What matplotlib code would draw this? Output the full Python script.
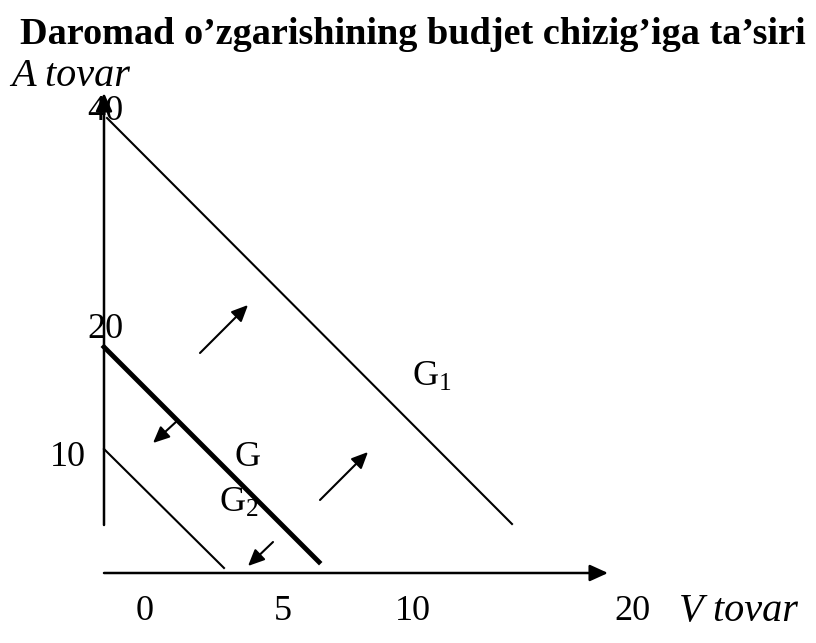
import matplotlib
matplotlib.use('Agg')
import matplotlib.pyplot as plt
from matplotlib.patches import FancyArrowPatch

# diagram units: 1 unit = 10 px, origin where the axes cross
title = 'Daromad o\u2019zgarishining budjet chizig\u2019iga ta\u2019siri'

# axes (start, end)
y_axis = [(0, 4.8), (0, 48.0)]
x_axis = [(0, 0), (50.4, 0)]

# budget lines
g1_x = [0.3, 40.8]
g1_y = [45.5, 4.9]
g_x = [0, 21.5]
g_y = [22.6, 1.1]
g2_x = [0, 12.0]
g2_y = [12.4, 0.5]

# shift arrows (start, end)
shift_arrows = [
    ((9.6, 22.0), (14.4, 26.8)),
    ((21.6, 7.3), (26.4, 12.1)),
    ((7.3, 15.2), (4.9, 13.0)),
    ((16.9, 3.1), (14.4, 0.7)),
]

# tick labels
y_labels = ['40', '20', '10']
y_label_pos = [(0.1, 46.2), (0.1, 24.3), (-3.6, 11.6)]
x_labels = ['0', '5', '10', '20']
x_label_pos = [4.1, 17.9, 30.9, 52.8]
x_label_y = -3.9

plt.rcParams['font.family'] = ['Liberation Serif', 'DejaVu Serif']
plt.rcParams['mathtext.fontset'] = 'custom'
plt.rcParams['mathtext.rm'] = 'Liberation Serif'
plt.rcParams['mathtext.it'] = 'Liberation Serif:italic'

fig = plt.figure(figsize=(8.16, 6.43), dpi=100)
ax = fig.add_axes([0, 0, 1, 1])
ax.set_xlim(-10.4, 71.2)
ax.set_ylim(-7.0, 57.3)
ax.axis('off')


def arrow(p0, p1, lw, hl, hw, ms):
    a = FancyArrowPatch(p0, p1, arrowstyle='-|>,head_length=%s,head_width=%s' % (hl, hw),
                        mutation_scale=ms, lw=lw, color='black',
                        shrinkA=0, shrinkB=0)
    ax.add_patch(a)


arrow(y_axis[0], y_axis[1], 1.8, 0.55, 0.25, 20)
arrow(x_axis[0], x_axis[1], 1.8, 0.55, 0.25, 20)

ax.plot(g1_x, g1_y, color='black', lw=1.5)
ax.plot(g_x, g_y, color='black', lw=3.5)
ax.plot(g2_x, g2_y, color='black', lw=1.5)

for p0, p1 in shift_arrows:
    arrow(p0, p1, 1.5, 0.55, 0.25, 18)

fs = 26
for lab, (x, y) in zip(y_labels, y_label_pos):
    ax.text(x, y, lab, fontsize=fs, ha='center', va='center')
for lab, x in zip(x_labels, x_label_pos):
    ax.text(x, x_label_y, lab, fontsize=fs, ha='center', va='center')

ax.text(63.4, x_label_y, 'V tovar', fontsize=29, style='italic', ha='center', va='center')
ax.text(-3.3, 49.6, 'A tovar', fontsize=29, style='italic', ha='center', va='center')

ax.text(14.4, 11.5, 'G', fontsize=fs, ha='center', va='center')
ax.text(13.5, 7.0, r'$\mathrm{G}_2$', fontsize=fs, ha='center', va='center')
ax.text(32.8, 19.6, r'$\mathrm{G}_1$', fontsize=fs, ha='center', va='center')

ax.text(30.9, 53.8, title, fontsize=27.5, fontweight='bold', ha='center', va='center')

fig.savefig('out.png', dpi=100)
